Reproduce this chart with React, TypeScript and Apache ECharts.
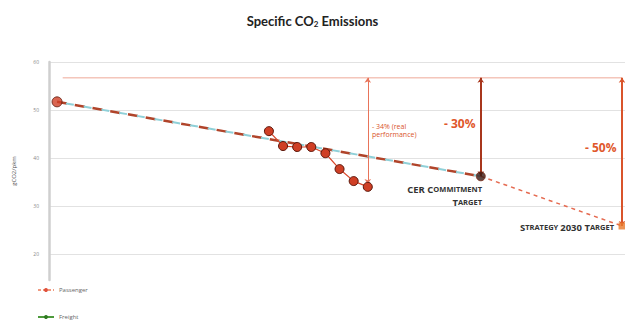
import React, { useEffect, useRef } from "react";
import * as echarts from "echarts";

const actualYears = [2005, 2006, 2007, 2008, 2009, 2010, 2011, 2012];
const actualValues = [45.6, 42.5, 42.3, 42.3, 41.0, 37.7, 35.2, 34.0];
const baseYear = 1990;
const baseValue = 51.7;
const cerYear = 2020;
const cerValue = 36.2;
const strategyYear = 2030;
const strategyValue = 25.85;
const referenceLevel = 56.7;
const yTicks = [20, 30, 40, 50, 60];
const legendNames = ["Passenger", "Freight"];

export default function App() {
  const ref = useRef<HTMLDivElement>(null);
  useEffect(() => {
    if (!ref.current) return;
    const chart = echarts.init(ref.current, null, { renderer: "svg" });
    const lastYear = actualYears[actualYears.length - 1];
    const lastValue = actualValues[actualValues.length - 1];
    const font = "Open Sans";
    const caps = {
      a: { fontSize: 9.5, fontWeight: "bold", fill: "#333", fontFamily: font, verticalAlign: "bottom", lineHeight: 12 },
      b: { fontSize: 7.5, fontWeight: "bold", fill: "#333", fontFamily: font, verticalAlign: "bottom", lineHeight: 12, padding: [0, 0, 1, 0] },
    };
    chart.setOption({
      animation: false,
      title: {
        text: "{a|Specific CO}{s|2}{a| Emissions}",
        left: "center",
        top: 8,
        textStyle: {
          rich: {
            a: { fontFamily: "Lato", fontWeight: "bold", fontSize: 13, color: "#222" },
            s: { fontFamily: "Lato", fontWeight: "bold", fontSize: 8, color: "#222", padding: [7, 0, 0, 0] },
          },
        },
      },
      legend: {
        orient: "vertical",
        left: 32,
        top: 282,
        itemGap: 21,
        itemWidth: 16,
        itemHeight: 5,
        data: legendNames,
        textStyle: { fontSize: 6, color: "#666", fontFamily: font },
      },
      grid: { left: 49, right: 0, top: 62, bottom: 47 },
      xAxis: {
        type: "value",
        min: 1989.43,
        max: 2030.21,
        show: false,
      },
      yAxis: {
        type: "value",
        min: 14.6,
        max: 60,
        name: "gCO2/pkm",
        nameLocation: "middle",
        nameGap: 32,
        nameTextStyle: { fontSize: 6, color: "#555", fontFamily: font },
        axisLine: { show: true, lineStyle: { color: "#cfcfcf", width: 2.5 } },
        axisTick: { show: false, customValues: yTicks },
        axisLabel: { customValues: yTicks, fontSize: 5, color: "#888", margin: 10, fontFamily: font },
        splitLine: { show: true, lineStyle: { color: "#e2e2e2", width: 1 } },
      },
      graphic: [
        {
          type: "text",
          left: 372,
          top: 122,
          style: {
            text: "- 34% (real\nperformance)",
            fontSize: 7,
            lineHeight: 8,
            fill: "#d9542b",
            fontFamily: font,
          },
        },
        {
          type: "text",
          left: 444,
          top: 117,
          style: { text: "- 30%", fontSize: 12, fontWeight: "bold", fill: "#e0582c", fontFamily: font },
        },
        {
          type: "text",
          left: 585,
          top: 141,
          style: { text: "- 50%", fontSize: 12, fontWeight: "bold", fill: "#e0582c", fontFamily: font },
        },
        {
          type: "text",
          x: 482,
          y: 188,
          style: { text: "{a|CER C}{b|OMMITMENT}", align: "right", verticalAlign: "middle", rich: caps },
        },
        {
          type: "text",
          x: 482,
          y: 201,
          style: { text: "{a|T}{b|ARGET}", align: "right", verticalAlign: "middle", rich: caps },
        },
        {
          type: "text",
          x: 614,
          y: 226,
          style: { text: "{a|S}{b|TRATEGY }{a|2030 T}{b|ARGET}", align: "right", verticalAlign: "middle", rich: caps },
        },
      ],
      series: [
        {
          name: "Reference",
          type: "line",
          data: [
            [baseYear + 0.4, referenceLevel],
            [strategyYear, referenceLevel],
          ],
          symbol: "none",
          lineStyle: { color: "#eea898", width: 1 },
          z: 1,
          markLine: {
            silent: true,
            symbol: ["arrow", "arrow"],
            symbolSize: 5,
            label: { show: false },
            data: [
              [
                { coord: [lastYear, referenceLevel], lineStyle: { color: "#e8745a", width: 1, type: "solid" } },
                { coord: [lastYear, lastValue + 0.6] },
              ],
              [
                { coord: [cerYear, referenceLevel], lineStyle: { color: "#a8361c", width: 2, type: "solid" } },
                { coord: [cerYear, cerValue] },
              ],
              [
                { coord: [strategyYear, referenceLevel], lineStyle: { color: "#d9542b", width: 2, type: "solid" } },
                { coord: [strategyYear, strategyValue] },
              ],
            ],
          },
        },
        {
          name: "Outlook",
          type: "line",
          data: [
            [cerYear, cerValue],
            [strategyYear, strategyValue],
          ],
          symbol: "none",
          lineStyle: { color: "#e56a50", width: 1.5, type: [4, 4] },
          z: 2,
        },
        {
          name: "TrendBrown",
          type: "line",
          data: [
            [baseYear, baseValue],
            [cerYear, cerValue],
          ],
          symbol: "none",
          lineStyle: { color: "#b0442a", width: 2.5, type: [10, 8] },
          z: 3,
        },
        {
          name: "TrendCyan",
          type: "line",
          data: [
            [baseYear, baseValue],
            [cerYear, cerValue],
          ],
          symbol: "none",
          lineStyle: { color: "#8fd0d8", width: 2, type: [8, 10], dashOffset: 9 },
          z: 3,
        },
        {
          name: "Actual",
          type: "line",
          data: actualYears.map((y, i) => [y, actualValues[i]]),
          symbol: "circle",
          symbolSize: 9,
          lineStyle: { color: "#d8462a", width: 1.2 },
          itemStyle: { color: "#cf3f25", borderColor: "#5a160a", borderWidth: 1 },
          z: 5,
        },
        {
          name: "Base",
          type: "scatter",
          data: [[baseYear, baseValue]],
          symbol: "circle",
          symbolSize: 10,
          itemStyle: { color: "#cf3f25", borderColor: "#5a160a", borderWidth: 1 },
          z: 5,
        },
        {
          name: "CER",
          type: "scatter",
          data: [[cerYear, cerValue]],
          symbol: "circle",
          symbolSize: 9,
          itemStyle: { color: "#3a1a14", borderColor: "#7a2a18", borderWidth: 1 },
          z: 6,
        },
        {
          name: "Strategy",
          type: "scatter",
          data: [[strategyYear, strategyValue]],
          symbol: "rect",
          symbolSize: 7,
          itemStyle: { color: "#e8792a" },
          z: 6,
        },
        {
          name: "Passenger",
          type: "line",
          data: [],
          symbol: "circle",
          symbolSize: 4,
          lineStyle: { color: "#f09a80", width: 1, type: [3, 2] },
          itemStyle: { color: "#e0503a" },
        },
        {
          name: "Freight",
          type: "line",
          data: [],
          symbol: "circle",
          symbolSize: 4,
          lineStyle: { color: "#4d9a3c", width: 1 },
          itemStyle: { color: "#2f7a22" },
        },
      ],
    });
    return () => chart.dispose();
  }, []);
  return (
    <div
      ref={ref}
      style={{ position: "absolute", left: 0, top: 0, width: 625, height: 327 }}
    />
  );
}
